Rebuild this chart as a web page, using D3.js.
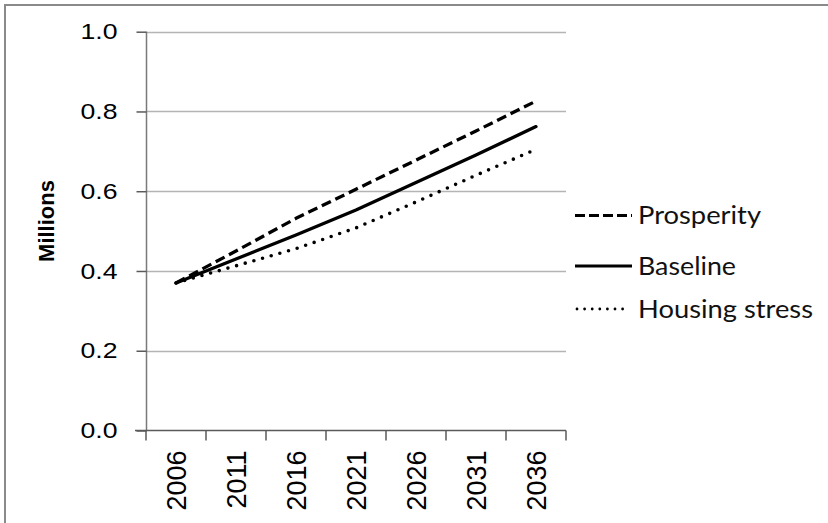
<!DOCTYPE html>
<html>
<head>
<meta charset="utf-8">
<script src="https://cdn.jsdelivr.net/npm/d3@7"></script>
<style>
  html, body { margin: 0; padding: 0; background: #fff; }
  svg { display: block; }
</style>
</head>
<body>
<svg id="chart" width="828" height="523"></svg>
<script>
const years = ["2006", "2011", "2016", "2021", "2026", "2031", "2036"];
const prosperity = [0.37, 0.45, 0.532, 0.605, 0.678, 0.751, 0.826];
const baseline = [0.37, 0.43, 0.49, 0.553, 0.622, 0.691, 0.762];
const housingStress = [0.37, 0.413, 0.456, 0.508, 0.573, 0.640, 0.705];
const yTicks = [0, 0.2, 0.4, 0.6, 0.8, 1.0];
const seriesNames = ["Prosperity", "Baseline", "Housing stress"];
const yTitle = "Millions";

const series = [
  { name: seriesNames[0], values: prosperity, dash: "10,5", cap: "butt", width: 3.3, legDash: "10,4", legCap: "butt" },
  { name: seriesNames[1], values: baseline, dash: null, cap: "round", width: 3.3, legDash: null, legCap: "butt" },
  { name: seriesNames[2], values: housingStress, dash: "0,9", cap: "round", width: 3.6, legDash: "0,7.6", legCap: "round" }
];

const svg = d3.select("#chart");

// outer frame
svg.append("rect")
  .attr("x", 5).attr("y", 5).attr("width", 840).attr("height", 540)
  .attr("fill", "none").attr("stroke", "#8a8a8a").attr("stroke-width", 2);

const x = d3.scaleBand().domain(years).range([146, 566]).paddingInner(0).paddingOuter(0);
const y = d3.scaleLinear().domain([0, 1]).range([430.5, 31.7]);

// gridlines
svg.append("g").selectAll("line").data(yTicks.filter(d => d > 0)).join("line")
  .attr("x1", 146).attr("x2", 566)
  .attr("y1", d => Math.round(y(d)) + 0.5).attr("y2", d => Math.round(y(d)) + 0.5)
  .attr("stroke", "#b4b4b4").attr("stroke-width", 1.3);

// y axis
const yAxis = svg.append("g").attr("transform", "translate(146.5,0)")
  .call(d3.axisLeft(y).tickValues(yTicks).tickFormat(d3.format(".1f")).tickSize(10).tickPadding(19));
yAxis.select(".domain").attr("stroke", "#7a7a7a").attr("stroke-width", 1.5).attr("d", `M0,${y(1)}V${y(0)}`);
yAxis.selectAll(".tick line").attr("stroke", "#5a5a5a").attr("stroke-width", 1.5);
yAxis.selectAll(".tick text")
  .attr("font-family", "Liberation Sans, Arial, sans-serif")
  .attr("font-size", 22.5).attr("fill", "#000")
  .attr("textLength", 37).attr("lengthAdjust", "spacingAndGlyphs");

// x axis line
svg.append("line")
  .attr("x1", 135).attr("x2", 566).attr("y1", y(0)).attr("y2", y(0))
  .attr("stroke", "#5a5a5a").attr("stroke-width", 1.5);
// x boundary ticks
const bounds = years.map(d => x(d)).concat([x(years[years.length - 1]) + x.bandwidth()]);
svg.append("g").selectAll("line").data(bounds).join("line")
  .attr("x1", d => d).attr("x2", d => d)
  .attr("y1", y(0)).attr("y2", y(0) + 10)
  .attr("stroke", "#5a5a5a").attr("stroke-width", 1.5);

// x labels via axis
const xAxis = svg.append("g").attr("transform", `translate(0,${y(0)})`)
  .call(d3.axisBottom(x).tickSize(0).tickPadding(0));
xAxis.select(".domain").remove();
xAxis.selectAll(".tick text")
  .attr("font-family", "Liberation Sans, Arial, sans-serif")
  .attr("font-size", 27).attr("fill", "#000")
  .attr("text-anchor", "end")
  .attr("y", 0).attr("dy", "0.35em")
  .attr("transform", "translate(1,20) rotate(-90)");

// y title
svg.append("text")
  .attr("transform", `translate(46,221) rotate(-90)`)
  .attr("text-anchor", "middle").attr("dy", "0.35em")
  .attr("font-family", "Liberation Sans, Arial, sans-serif")
  .attr("font-weight", "bold").attr("font-size", 22).attr("fill", "#000")
  .text(yTitle);

// lines
const line = d3.line().x((d, i) => x(years[i]) + x.bandwidth() / 2).y(d => y(d));
svg.append("g").selectAll("path").data(series).join("path")
  .attr("d", d => line(d.values))
  .attr("fill", "none").attr("stroke", "#000")
  .attr("stroke-width", d => d.width)
  .attr("stroke-dasharray", d => d.dash)
  .attr("stroke-linecap", d => d.cap)
  .attr("stroke-linejoin", "round");

// legend
const legendRows = [215.5, 266, 309];
const legend = svg.append("g").selectAll("g").data(series).join("g")
  .attr("transform", (d, i) => `translate(0,${legendRows[i]})`);
legend.append("line")
  .attr("x1", (d, i) => i === 2 ? 577 : 575).attr("x2", (d, i) => i === 2 ? 628 : 632)
  .attr("y1", 0).attr("y2", 0)
  .attr("stroke", "#000").attr("stroke-width", (d, i) => i === 2 ? 2.8 : 3.2)
  .attr("stroke-dasharray", d => d.legDash)
  .attr("stroke-linecap", d => d.legCap);
const textLens = [123, 98, 175];
legend.append("text")
  .attr("x", 638).attr("y", 0).attr("dy", "0.35em")
  .attr("font-family", "Lato, 'Open Sans', sans-serif")
  .attr("font-size", 25).attr("fill", "#111")
  .attr("textLength", (d, i) => textLens[i]).attr("lengthAdjust", "spacingAndGlyphs")
  .text(d => d.name);
</script>
</body>
</html>
